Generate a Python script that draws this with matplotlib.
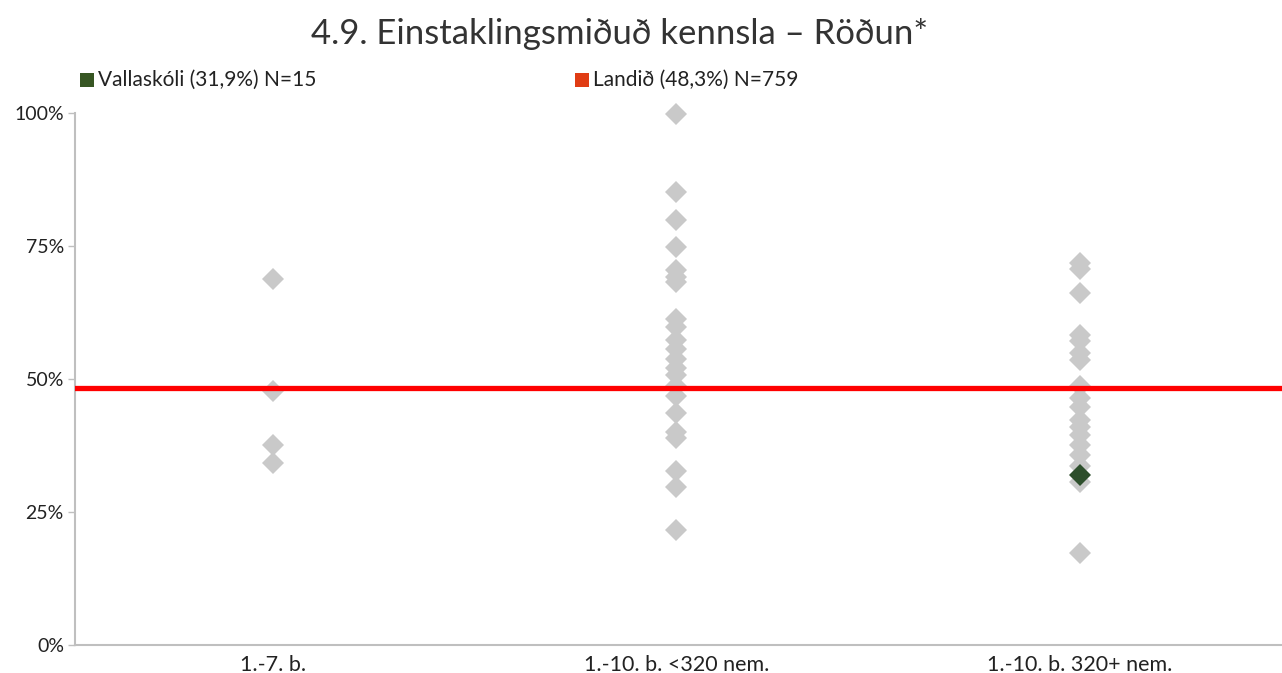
import matplotlib
matplotlib.use("Agg")
import matplotlib.pyplot as plt
from matplotlib.patches import Rectangle
from matplotlib.ticker import FixedLocator, FuncFormatter

categories = ["1.-7. b.", "1.-10. b. <320 nem.", "1.-10. b. 320+ nem."]
group1 = [68.8, 47.8, 37.6, 34.2]
group2 = [99.8, 85.2, 79.8, 74.8, 70.5, 69.2, 68.2, 61.3, 59.7, 57.3, 55.6,
          53.7, 52.0, 50.7, 48.6, 46.8, 43.6, 40.1, 38.9, 32.8, 29.7, 21.6]
group3 = [71.8, 70.6, 66.2, 58.3, 57.2, 54.9, 53.6, 48.7, 46.4, 44.7, 42.3,
          41.0, 39.5, 37.6, 35.7, 33.7, 30.6, 17.2]
school_cat = 2
school_value = 31.9
national_value = 48.3
yticks = [0, 25, 50, 75, 100]

plt.rcParams['font.family'] = ['Lato', 'DejaVu Sans']

fig = plt.figure(figsize=(12.82, 6.73), dpi=100)
ax = fig.add_axes([75/1282, 1 - 645/673, 1 - 75/1282, 532/673])

gray = "#C9C9C9"
ms = 11.5
for i, vals in enumerate([group1, group2, group3]):
    ax.plot([i] * len(vals), vals, linestyle="none", marker="D",
            markersize=ms, color=gray, markeredgewidth=0, zorder=2,
            clip_on=False)

ax.axhline(national_value, color="#FF0000", linewidth=3.8, zorder=3)
ax.plot([school_cat], [school_value], linestyle="none", marker="D",
        markersize=ms, color="#2E4F2C", markeredgewidth=0, zorder=4,
        clip_on=False)

ax.set_xlim(-0.49, 2.5)
ax.set_ylim(0, 100)
ax.yaxis.set_major_locator(FixedLocator(yticks))
ax.yaxis.set_major_formatter(FuncFormatter(lambda v, p: f"{int(v)}%"))
ax.set_xticks(range(len(categories)))
ax.set_xticklabels(categories)
ax.tick_params(axis="x", length=0, labelsize=15.5, colors="#222222", pad=7)
ax.tick_params(axis="y", length=5, width=1, color="#BFBFBF", labelsize=14,
               colors="#222222", pad=3)
for s in ["top", "right"]:
    ax.spines[s].set_visible(False)
for s in ["left", "bottom"]:
    ax.spines[s].set_color("#BFBFBF")
    ax.spines[s].set_linewidth(1.5)
ax.patch.set_alpha(0)

fig.text(620/1282, 1 - 34/673, "4.9. Einstaklingsmiðuð kennsla – Röðun*",
         ha="center", va="center", fontsize=25, color="#333333")

# Legend
def legend_item(x, color, label):
    fig.add_artist(Rectangle((x/1282, 1 - 87/673), 14/1282, 14/673,
                             transform=fig.transFigure, facecolor=color,
                             edgecolor="none"))
    fig.text((x + 18)/1282, 1 - 80/673, label, ha="left", va="center",
             fontsize=15, color="#222222")

legend_item(80, "#375623", "Vallaskóli (31,9%) N=15")
legend_item(575, "#E03C14", "Landið (48,3%) N=759")

fig.savefig("out.png", dpi=100)
